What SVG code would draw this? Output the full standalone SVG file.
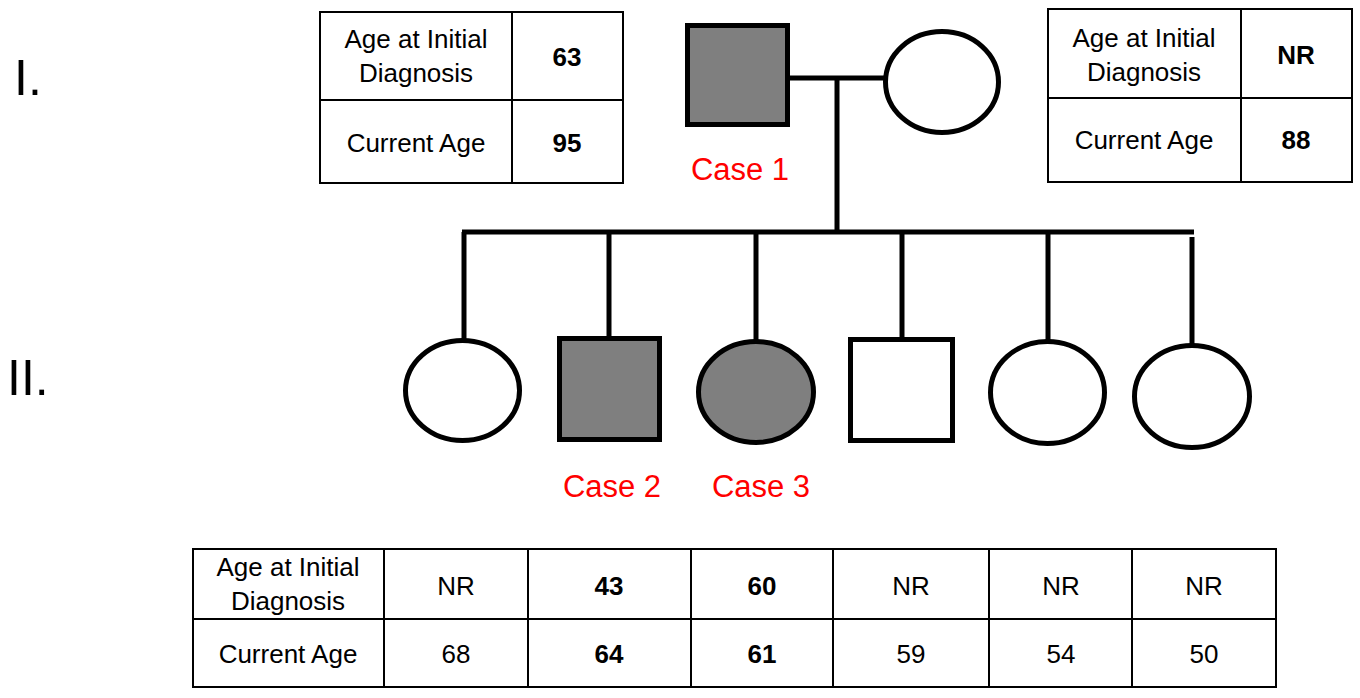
<svg xmlns="http://www.w3.org/2000/svg" width="1360" height="698" viewBox="0 0 1360 698">
<style>
.t{font-family:"Liberation Sans",Arial,sans-serif;font-size:26px;fill:#000;text-anchor:middle}
.b{font-weight:bold}
.case{font-family:"Liberation Sans",Arial,sans-serif;font-size:31px;fill:#ff0000;text-anchor:middle}
.gen{font-family:"Liberation Sans",Arial,sans-serif;font-size:50px;fill:#000}
.cell{fill:#fff;stroke:#000;stroke-width:2}
.grid{stroke:#000;stroke-width:2;fill:none}
.aff{fill:#7f7f7f;stroke:#000;stroke-width:5}
.un{fill:#fff;stroke:#000;stroke-width:5}
.ln{stroke:#000;stroke-width:5;fill:none}
</style>
<rect width="1360" height="698" fill="#fff"/>
<text class="gen" x="14" y="95">I.</text>
<text class="gen" x="7" y="395">II.</text>
<g id="connectors">
<line class="ln" x1="788" y1="78" x2="886" y2="78"/>
<line class="ln" x1="837" y1="78" x2="837" y2="232"/>
<line class="ln" x1="462" y1="232" x2="1194" y2="232"/>
<line class="ln" x1="464" y1="232" x2="464" y2="341"/>
<line class="ln" x1="609" y1="230" x2="609" y2="338"/>
<line class="ln" x1="756" y1="232" x2="756" y2="342"/>
<line class="ln" x1="902" y1="230" x2="902" y2="339"/>
<line class="ln" x1="1048" y1="232" x2="1048" y2="342"/>
<line class="ln" x1="1192" y1="237" x2="1192" y2="346"/>
</g>
<g id="I-1">
<rect class="aff" x="687.5" y="25.5" width="100" height="99"/>
<text class="case" x="740" y="180">Case 1</text>
</g>
<g id="I-2">
<ellipse class="un" cx="942" cy="82" rx="56.5" ry="50.5"/>
</g>
<g id="II-1">
<ellipse class="un" cx="462.5" cy="390.5" rx="57" ry="50"/>
</g>
<g id="II-2">
<rect class="aff" x="559.5" y="338.5" width="100" height="101"/>
<text class="case" x="612" y="497">Case 2</text>
</g>
<g id="II-3">
<ellipse class="aff" cx="756" cy="392" rx="57.5" ry="50.5"/>
<text class="case" x="761" y="497">Case 3</text>
</g>
<g id="II-4">
<rect class="un" x="850.5" y="339.5" width="102" height="101"/>
</g>
<g id="II-5">
<ellipse class="un" cx="1047.5" cy="392.5" rx="57" ry="51"/>
</g>
<g id="II-6">
<ellipse class="un" cx="1192" cy="396.5" rx="57.5" ry="51"/>
</g>
<g id="table-I-1">
<rect class="cell" x="320" y="12" width="303" height="171"/>
<line class="grid" x1="512" y1="12" x2="512" y2="183"/>
<line class="grid" x1="320" y1="100" x2="623" y2="100"/>
<text class="t" x="416" y="48">Age at Initial</text>
<text class="t" x="416" y="82">Diagnosis</text>
<text class="t b" x="567" y="66">63</text>
<text class="t" x="416" y="152">Current Age</text>
<text class="t b" x="567" y="152">95</text>
</g>
<g id="table-I-2">
<rect class="cell" x="1048" y="9" width="304" height="173"/>
<line class="grid" x1="1241" y1="9" x2="1241" y2="182"/>
<line class="grid" x1="1048" y1="98" x2="1352" y2="98"/>
<text class="t" x="1144" y="47">Age at Initial</text>
<text class="t" x="1144" y="81">Diagnosis</text>
<text class="t b" x="1296" y="64">NR</text>
<text class="t" x="1144" y="149">Current Age</text>
<text class="t b" x="1296" y="149">88</text>
</g>
<g id="table-II">
<rect class="cell" x="193" y="549" width="1083" height="138"/>
<line class="grid" x1="193" y1="619" x2="1276" y2="619"/>
<line class="grid" x1="384" y1="549" x2="384" y2="687"/>
<line class="grid" x1="528" y1="549" x2="528" y2="687"/>
<line class="grid" x1="691" y1="549" x2="691" y2="687"/>
<line class="grid" x1="833" y1="549" x2="833" y2="687"/>
<line class="grid" x1="989" y1="549" x2="989" y2="687"/>
<line class="grid" x1="1132" y1="549" x2="1132" y2="687"/>
<text class="t" x="288" y="576">Age at Initial</text>
<text class="t" x="288" y="610">Diagnosis</text>
<text class="t" x="288" y="663">Current Age</text>
<text class="t" x="456" y="595">NR</text>
<text class="t b" x="609" y="595">43</text>
<text class="t b" x="762" y="595">60</text>
<text class="t" x="911" y="595">NR</text>
<text class="t" x="1061" y="595">NR</text>
<text class="t" x="1204" y="595">NR</text>
<text class="t" x="456" y="663">68</text>
<text class="t b" x="609" y="663">64</text>
<text class="t b" x="762" y="663">61</text>
<text class="t" x="911" y="663">59</text>
<text class="t" x="1061" y="663">54</text>
<text class="t" x="1204" y="663">50</text>
</g>
</svg>
